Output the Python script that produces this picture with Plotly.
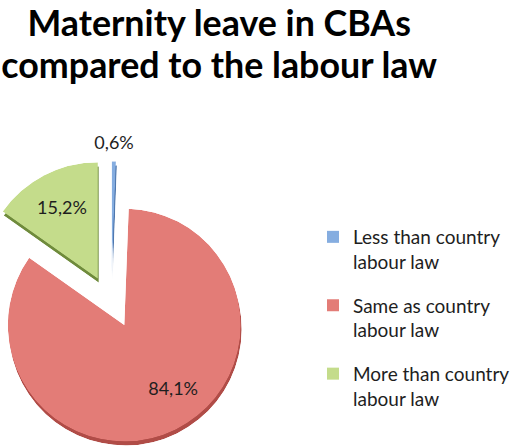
import numpy as np
import plotly.graph_objects as go

# ---- data -------------------------------------------------------------
categories = ["Less than country<br>labour law",
              "Same as country<br>labour law",
              "More than country<br>labour law"]
shares = [0.6, 84.1, 15.2]          # percent of CBAs

# ---- styling / geometry ---------------------------------------------------
W, H = 515, 448
R = 119                                   # slice radius in px
centers = [(114, 279), (127, 325), (100, 280)]   # exploded slice tips (px)
face_colors = ["#85ADE0", "#E37C77", "#C4DC8B"]
edge_colors = ["#4F77AD", "#B04C47", "#6F8B3C"]
depth = (1, 4)                            # px offset of the darker side face
label_r = [1.14, 0.70, 0.67]
label_turn = [0.0, -10.5, 0.0]
FONT = "Lato"

# slice angles, clockwise from 12 o'clock
vals = np.array(shares, dtype=float)
span = vals / vals.sum() * 360.0
end = np.cumsum(span)
start = end - span
mid = (start + end) / 2.0


def sector_bbox(s0, s1):
    """Bounding box of a polar sector (unit radius), as plotly computes it."""
    arc = s1 - s0
    a0 = s0 % 360
    a1 = a0 + arc
    ax0, ay0 = np.cos(np.radians(a0)), np.sin(np.radians(a0))
    ax1, ay1 = np.cos(np.radians(a1)), np.sin(np.radians(a1))
    if (a0 <= 90 and a1 >= 90) or (a0 > 90 and a1 >= 450):
        y1 = 1
    elif ay0 <= 0 and ay1 <= 0:
        y1 = 0
    else:
        y1 = max(ay0, ay1)
    if (a0 <= 180 and a1 >= 180) or (a0 > 180 and a1 >= 540):
        x0 = -1
    elif ax0 >= 0 and ax1 >= 0:
        x0 = 0
    else:
        x0 = min(ax0, ax1)
    if (a0 <= 270 and a1 >= 270) or (a0 > 270 and a1 >= 630):
        y0 = -1
    elif ay0 >= 0 and ay1 >= 0:
        y0 = 0
    else:
        y0 = min(ay0, ay1)
    if a1 >= 360:
        x1 = 1
    elif ax0 <= 0 and ax1 <= 0:
        x1 = 0
    else:
        x1 = max(ax0, ax1)
    return x0, y0, x1, y1


def polar_layout(i, dx=0, dy=0, rmax=1.0):
    sector = [90 - end[i], 90 - start[i]]
    x0, y0, x1, y1 = sector_bbox(*sector)
    cx, cy = centers[i][0] + dx, centers[i][1] + dy
    rp = R * rmax
    left, right = cx + x0 * rp, cx + x1 * rp
    top, bottom = cy - y1 * rp, cy - y0 * rp
    return dict(
        domain=dict(x=[max(left, 0) / W, min(right, W) / W],
                    y=[1 - bottom / H, 1 - top / H]),
        sector=sector,
        bgcolor="rgba(0,0,0,0)",
        hole=0,
        angularaxis=dict(visible=False, direction="clockwise", rotation=90,
                         showgrid=False, showline=False, ticks=""),
        radialaxis=dict(visible=False, range=[0, rmax], showgrid=False,
                        showline=False, ticks=""),
    )


fig = go.Figure()
layout_polars = {}
n = len(shares)


def pid_of(k):
    return "polar" if k == 0 else f"polar{k + 1}"


# darker side faces first
for i in range(n):
    pid = pid_of(i)
    layout_polars[pid] = polar_layout(i, *depth)
    fig.add_trace(go.Barpolar(
        r=[1], theta=[mid[i]], width=[span[i]], subplot=pid,
        marker=dict(color=edge_colors[i], line=dict(width=0)),
        showlegend=False, hoverinfo="skip"))

# slice faces
for i in range(n):
    pid = pid_of(n + i)
    layout_polars[pid] = polar_layout(i)
    fig.add_trace(go.Barpolar(
        r=[1], theta=[mid[i]], width=[span[i]], subplot=pid,
        name=categories[i], legendgroup=f"g{i}", legendrank=i + 1,
        marker=dict(color=face_colors[i], line=dict(width=0)),
        hovertemplate="%{customdata:.1f}%<extra></extra>",
        customdata=[shares[i]]))

# percentage labels, each in a polar frame sized to reach its label
for i in range(n):
    pid = pid_of(2 * n + i)
    rmax = max(1.0, label_r[i] * 1.03)
    layout_polars[pid] = polar_layout(i, rmax=rmax)
    fig.add_trace(go.Scatterpolar(
        r=[label_r[i]], theta=[mid[i] + label_turn[i]], subplot=pid,
        mode="text", customdata=[shares[i]],
        texttemplate="%{customdata:.1f}%", textposition="middle center",
        textfont=dict(family=FONT, size=18, color="#1E1E1E"),
        cliponaxis=False, showlegend=False, hoverinfo="skip"))

fig.update_layout(
    **layout_polars,
    template="none",
    width=W, height=H,
    margin=dict(l=0, r=0, t=0, b=0),
    paper_bgcolor="white",
    separators=", ",
    title=dict(text="<b><span style='font-size:35.8px'>Maternity leave in CBAs<br>"
                    "compared to the labour law</span></b>",
               font=dict(family=FONT, size=32, color="black"),
               x=224 / W, xanchor="center", xref="paper",
               y=1 - 36 / H, yanchor="middle", yref="container"),
    legend=dict(x=320 / W, xanchor="left", y=1 - 218 / H, yanchor="top",
                font=dict(family=FONT, size=19, color="#1E1E1E"),
                valign="top", tracegroupgap=16, bgcolor="rgba(0,0,0,0)"),
    showlegend=True,
)

fig.write_html("out.html")
